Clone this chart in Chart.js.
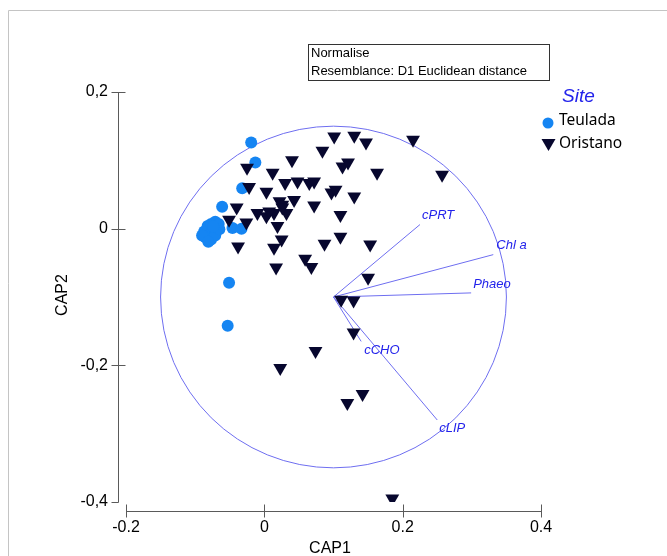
<!DOCTYPE html>
<html>
<head>
<meta charset="utf-8">
<script src="https://cdn.jsdelivr.net/npm/chart.js@4.4.1/dist/chart.umd.min.js"></script>
<style>
  html, body { margin: 0; padding: 0; background: #fff; }
  #wrap { width: 667px; height: 556px; }
</style>
</head>
<body>
<div id="wrap"><canvas id="capChart" width="667" height="556"></canvas></div>
<script>
// CAP ordination, factor Site
var sites = ['Teulada', 'Oristano'];

var teuladaX = [-0.019, -0.013, -0.032, -0.061, -0.046, -0.033, -0.051, -0.053,
    -0.087, -0.082, -0.077, -0.071, -0.066, -0.068, -0.074, -0.079, -0.085, -0.077,
    -0.071, -0.090, -0.081, -0.065, -0.074];
var teuladaY = [0.126, 0.097, 0.059, 0.032, 0.001, 0.000, -0.079, -0.142,
    -0.004, 0.004, 0.007, 0.010, 0.007, -0.001, -0.001, -0.009, -0.013, -0.016,
    -0.010, -0.010, -0.019, -0.001, 0.003];

var oristanoX = [0.101, 0.130, 0.147, 0.215, 0.084, 0.040, 0.113, 0.121, 0.163, 0.257,
    -0.025, 0.012, 0.030, 0.048, 0.065, 0.072, -0.022, 0.003, 0.097, 0.103,
    0.130, 0.022, 0.026, 0.043, 0.072, -0.040, -0.051, -0.026, -0.010, 0.003,
    0.014, 0.032, 0.110, 0.019, 0.025, 0.014, -0.038, 0.087, 0.110, 0.153,
    0.059, 0.068, 0.017, 0.150, 0.111, 0.129, 0.129, 0.074, 0.023, 0.142,
    0.120, 0.185, 0.007, 0.026];
var oristanoY = [0.135, 0.136, 0.126, 0.130, 0.114, 0.100, 0.091, 0.097, 0.082, 0.079,
    0.089, 0.082, 0.067, 0.069, 0.067, 0.069, 0.061, 0.054, 0.053, 0.057,
    0.047, 0.040, 0.035, 0.042, 0.034, 0.031, 0.013, 0.009, 0.023, 0.018,
    0.023, 0.023, 0.020, 0.004, -0.016, -0.028, -0.026, -0.022, -0.012, -0.023,
    -0.044, -0.056, -0.057, -0.072, -0.104, -0.105, -0.152, -0.179, -0.204, -0.242,
    -0.255, -0.395, 0.025, 0.031];

// vectors (from circle centre)
var vectorNames = ['cPRT', 'Chl a', 'Phaeo', 'cCHO', 'cLIP'];
var vectorX = [0.225, 0.331, 0.299, 0.140, 0.250];
var vectorY = [0.006, -0.038, -0.094, -0.165, -0.280];
var vectorOrigin = [0.1, -0.1];
var circleRadius = 0.25;

var xTicks = [-0.2, 0, 0.2, 0.4];
var xTickLabels = ['-0.2', '0', '0.2', '0.4'];
var yTicks = [-0.4, -0.2, 0, 0.2];
var yTickLabels = ['-0,4', '-0,2', '0', '0,2'];

var blue = '#1585f2';
var navy = '#07072e';
var vecColor = 'rgb(110,110,240)';
var labColor = 'rgb(35,35,235)';
var labOffset = [[2, -9], [3, -9], [2, -9], [3, 9], [2, 8]];

function pts(xs, ys) {
    return xs.map(function(x, i) { return {x: x, y: ys[i]}; });
}

var datasets = [
    {label: sites[1], data: pts(oristanoX, oristanoY), pointStyle: 'triangle', rotation: 180,
     pointRadius: 8, backgroundColor: navy, borderWidth: 0},
    {label: sites[0], data: pts(teuladaX, teuladaY), pointStyle: 'circle',
     pointRadius: 6, backgroundColor: blue, borderWidth: 0}
];
vectorNames.forEach(function(n, i) {
    datasets.push({label: n, data: [{x: vectorOrigin[0], y: vectorOrigin[1]}, {x: vectorX[i], y: vectorY[i]}],
        showLine: true, borderColor: vecColor, borderWidth: 1, pointRadius: 0});
});

var capDecor = {
    id: 'capDecor',
    beforeDatasetsDraw: function(chart) {
        var ctx = chart.ctx, xs = chart.scales.x, ys = chart.scales.y;
        var cx = xs.getPixelForValue(vectorOrigin[0]), cy = ys.getPixelForValue(vectorOrigin[1]);
        var rx = xs.getPixelForValue(vectorOrigin[0] + circleRadius) - cx;
        var ry = cy - ys.getPixelForValue(vectorOrigin[1] + circleRadius);
        ctx.save();
        ctx.strokeStyle = vecColor;
        ctx.lineWidth = 1;
        ctx.beginPath();
        ctx.ellipse(cx, cy, rx, ry, 0, 0, Math.PI * 2);
        ctx.stroke();
        ctx.restore();
    },
    afterDraw: function(chart) {
        var ctx = chart.ctx, xs = chart.scales.x, ys = chart.scales.y, a = chart.chartArea;
        ctx.save();
        // outer frame
        ctx.strokeStyle = '#c4c4c4';
        ctx.lineWidth = 1;
        ctx.beginPath();
        ctx.moveTo(8.5, 556); ctx.lineTo(8.5, 10.5); ctx.lineTo(667, 10.5);
        ctx.stroke();

        // axes, offset from the plot area
        ctx.strokeStyle = '#5a5a5a';
        var ax = Math.round(a.left) - 8 + 0.5;
        var ay = Math.round(a.bottom) + 9 + 0.5;
        ctx.beginPath();
        ctx.moveTo(ax, Math.round(ys.getPixelForValue(0.2)) + 0.5);
        ctx.lineTo(ax, Math.round(ys.getPixelForValue(-0.4)) + 0.5);
        yTicks.forEach(function(v) {
            var p = Math.round(ys.getPixelForValue(v)) + 0.5;
            ctx.moveTo(ax - 7, p); ctx.lineTo(ax + (v === -0.4 ? 0 : 7), p);
        });
        ctx.moveTo(Math.round(xs.getPixelForValue(-0.2)) + 0.5, ay);
        ctx.lineTo(Math.round(xs.getPixelForValue(0.4)) + 0.5, ay);
        xTicks.forEach(function(v) {
            var p = Math.round(xs.getPixelForValue(v)) + 0.5;
            ctx.moveTo(p, ay - 7); ctx.lineTo(p, ay + 6);
        });
        ctx.stroke();

        // axis titles
        ctx.fillStyle = '#000';
        ctx.font = '16px "Liberation Sans", Arial, sans-serif';
        ctx.textAlign = 'center';
        ctx.textBaseline = 'middle';
        ctx.fillText('CAP1', 330, 549);
        ctx.translate(63, 295);
        ctx.rotate(-Math.PI / 2);
        ctx.fillText('CAP2', 0, 0);
        ctx.setTransform(1, 0, 0, 1, 0, 0);

        // info box
        ctx.strokeStyle = '#333';
        ctx.strokeRect(308.5, 44.5, 241, 36);
        ctx.font = '13px "Liberation Sans", Arial, sans-serif';
        ctx.textAlign = 'left';
        ctx.textBaseline = 'alphabetic';
        ctx.fillText('Normalise', 311, 57);
        ctx.fillText('Resemblance: D1 Euclidean distance', 311, 75);

        // legend
        ctx.fillStyle = labColor;
        ctx.font = 'italic 19px "Liberation Sans", Arial, sans-serif';
        ctx.textBaseline = 'middle';
        ctx.fillText('Site', 562, 97);
        ctx.fillStyle = blue;
        ctx.beginPath(); ctx.arc(548, 123, 5.5, 0, Math.PI * 2); ctx.fill();
        ctx.fillStyle = navy;
        ctx.beginPath();
        ctx.moveTo(541.5, 139); ctx.lineTo(555.5, 139); ctx.lineTo(548.5, 151); ctx.closePath();
        ctx.fill();
        ctx.fillStyle = '#000';
        ctx.font = '15.5px "Noto Sans", "Open Sans", sans-serif';
        ctx.fillText(sites[0], 559, 121);
        ctx.fillText(sites[1], 559, 144);
        ctx.restore();
    },
    afterDatasetsDraw: function(chart) {
        var ctx = chart.ctx, xs = chart.scales.x, ys = chart.scales.y;
        ctx.save();
        ctx.fillStyle = labColor;
        ctx.font = 'italic 13px "Liberation Sans", Arial, sans-serif';
        ctx.textAlign = 'left';
        ctx.textBaseline = 'middle';
        vectorNames.forEach(function(n, i) {
            var px = xs.getPixelForValue(vectorX[i]) + labOffset[i][0];
            var py = ys.getPixelForValue(vectorY[i]) + labOffset[i][1];
            ctx.fillText(n, px, py);
        });
        ctx.restore();
    }
};

var ctx = document.getElementById('capChart').getContext('2d');
var capChart = new Chart(ctx, {
    type: 'scatter',
    data: {datasets: datasets},
    options: {
        responsive: false,
        animation: false,
        devicePixelRatio: 1,
        events: [],
        layout: {padding: {left: 0, top: 92, right: 126, bottom: 0}},
        plugins: {legend: {display: false}, tooltip: {enabled: false}},
        scales: {
            x: {
                type: 'linear', min: -0.2, max: 0.4,
                afterBuildTicks: function(s) { s.ticks = xTicks.map(function(v) { return {value: v}; }); },
                afterFit: function(s) { s.height = 54; },
                ticks: {
                    callback: function(v) { return xTickLabels[xTicks.indexOf(v)]; },
                    font: {family: '"Liberation Sans", Arial, sans-serif', size: 16},
                    color: '#000', padding: 16, maxRotation: 0, autoSkip: false
                },
                grid: {display: false, drawTicks: false},
                border: {display: false}
            },
            y: {
                type: 'linear', min: -0.4, max: 0.2,
                afterBuildTicks: function(s) { s.ticks = yTicks.map(function(v) { return {value: v}; }); },
                afterFit: function(s) { s.width = 126; },
                ticks: {
                    callback: function(v) { return yTickLabels[yTicks.indexOf(v)]; },
                    font: {family: '"Liberation Sans", Arial, sans-serif', size: 16},
                    color: '#000', padding: 18, autoSkip: false
                },
                grid: {display: false, drawTicks: false},
                border: {display: false}
            }
        }
    },
    plugins: [capDecor]
});
</script>
</body>
</html>
